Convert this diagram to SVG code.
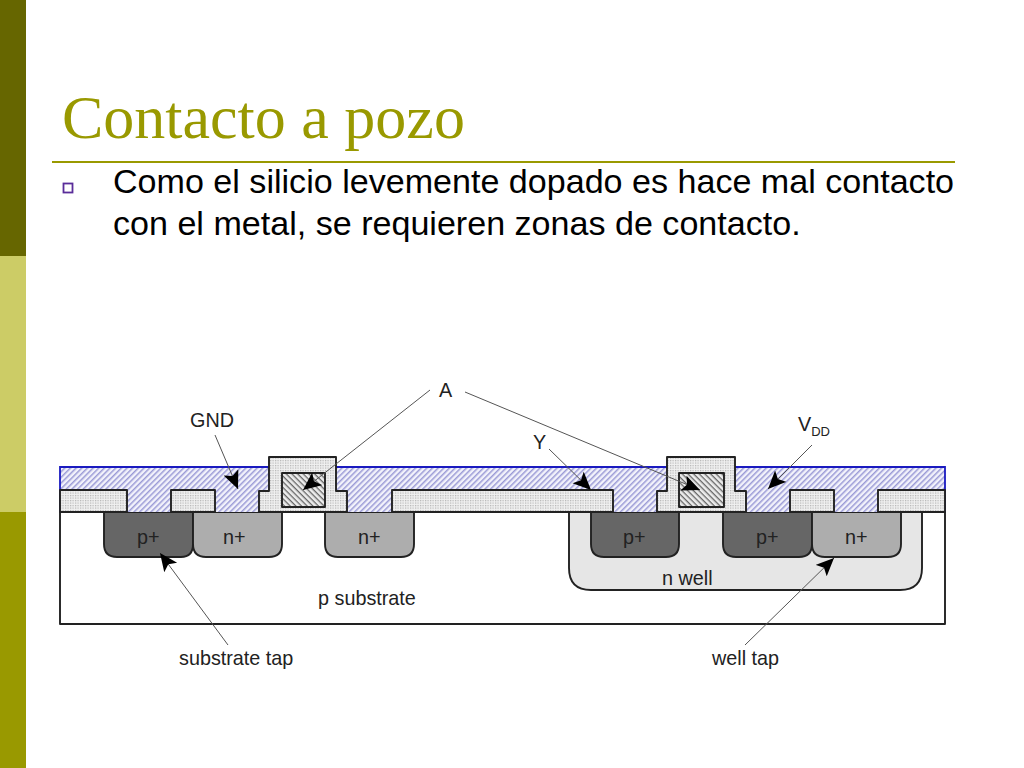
<svg xmlns="http://www.w3.org/2000/svg" width="1024" height="768" viewBox="0 0 1024 768">
<style>
.s{font-family:"Liberation Sans",Arial,sans-serif;font-size:19.800px;fill:#222}
.o{stroke:#222;stroke-width:1.900;stroke-linejoin:round}
.ox{fill:url(#dots)}
.d1{fill:#666666}
.d2{fill:#adadad}
.a{stroke:#555;stroke-width:1;fill:none;marker-end:url(#ah)}
</style>
<defs>
<pattern id="hatchM" width="4" height="4" patternUnits="userSpaceOnUse" patternTransform="rotate(-45)"><rect width="4" height="4" fill="#f2f2fb"/><rect width="4" height="1.500" fill="#9a9ad6"/></pattern>
<pattern id="hatchP" width="4" height="4" patternUnits="userSpaceOnUse" patternTransform="rotate(45)"><rect width="4" height="4" fill="#ececec"/><rect width="4" height="1.300" fill="#666"/></pattern>
<pattern id="dots" width="2.500" height="2.500" patternUnits="userSpaceOnUse"><rect width="2.500" height="2.500" fill="#f0f0f0"/><rect width="1.200" height="1.200" fill="#b4b4b4"/></pattern>
<marker id="ah" markerUnits="userSpaceOnUse" markerWidth="20" markerHeight="18" refX="18" refY="8" orient="auto"><path d="M0,0L18,8L0,16L4,8Z" fill="#000"/></marker>
</defs>
<g id="sidebar">
<rect width="26" height="256" fill="#666600"/>
<rect y="256" width="26" height="256" fill="#cccc66"/>
<rect y="512" width="26" height="256" fill="#999900"/>
</g>
<g id="title">
<text x="62" y="138" font-family="'Liberation Serif','Times New Roman',serif" font-size="62" fill="#999900">Contacto a pozo</text>
<rect x="52" y="161" width="903" height="2" fill="#999900"/>
</g>
<g id="body">
<rect x="63.500" y="183.500" width="9" height="9" fill="#fff" stroke="#5a2d9a" stroke-width="1.800"/>
<text font-family="'Liberation Sans',Arial,sans-serif" font-size="34.100" fill="#000"><tspan x="113" y="193">Como el silicio levemente dopado es hace mal contacto</tspan><tspan x="113" y="235">con el metal, se requieren zonas de contacto.</tspan></text>
</g>
<g id="substrate"><rect class="o" x="60" y="512" width="885" height="112" fill="#fff"/></g>
<g id="nwell"><path class="o" fill="#e6e6e6" d="M569,512V568Q569,590 591,590H900Q922,590 922,568V512Z"/></g>
<g id="diffusions">
<path id="pplus1" class="o d1" d="M104,512V544Q104,557 117,557H181Q193,557 193,544V512Z"/>
<path id="nplus1" class="o d2" d="M193,512V544Q193,557 206,557H269Q282,557 282,544V512Z"/>
<path id="nplus2" class="o d2" d="M325,512V544Q325,557 338,557H401Q414,557 414,544V512Z"/>
<path id="pplus2" class="o d1" d="M591,512V544Q591,557 604,557H666Q679,557 679,544V512Z"/>
<path id="pplus3" class="o d1" d="M723,512V544Q723,557 736,557H799Q812,557 812,544V512Z"/>
<path id="nplus3" class="o d2" d="M812,512V544Q812,557 825,557H888Q901,557 901,544V512Z"/>
</g>
<g id="metal"><path fill="url(#hatchM)" d="M60,467H945V512H60Z"/><path d="M60,512V467H945V512" fill="none" stroke="#1a1ac0" stroke-width="1.800"/></g>
<g id="oxide">
<rect class="o ox" x="60" y="490" width="67" height="22"/>
<rect class="o ox" x="171" y="490" width="44" height="22"/>
<path class="o ox" d="M259,512V491H269V457H336V491H347V512Z"/>
<rect class="o ox" x="392" y="490" width="221" height="22"/>
<path class="o ox" d="M657,512V491H667V457H735V491H746V512Z"/>
<rect class="o ox" x="790" y="490" width="44" height="22"/>
<rect class="o ox" x="878" y="490" width="67" height="22"/>
</g>
<g id="poly">
<rect class="o" x="282" y="473" width="43" height="34" fill="url(#hatchP)"/>
<rect class="o" x="679" y="473" width="45" height="34" fill="url(#hatchP)"/>
</g>
<g id="connectors">
<line class="a" x1="215" y1="435" x2="238" y2="489"/>
<line class="a" x1="430" y1="390" x2="303" y2="490"/>
<line class="a" x1="465" y1="392" x2="700" y2="490"/>
<line class="a" x1="549" y1="449" x2="591" y2="490"/>
<line class="a" x1="812" y1="445" x2="768" y2="489"/>
<line class="a" x1="228" y1="645" x2="160" y2="553"/>
<line class="a" x1="745" y1="645" x2="834" y2="558"/>
</g>
<g id="labels">
<text class="s" x="439" y="397">A</text>
<text class="s" x="190" y="427">GND</text>
<text class="s" x="533" y="449">Y</text>
<text class="s" x="798" y="431">V<tspan font-size="13" dy="5">DD</tspan></text>
<text class="s" x="137" y="544">p+</text>
<text class="s" x="223" y="544">n+</text>
<text class="s" x="358" y="544">n+</text>
<text class="s" x="623" y="544">p+</text>
<text class="s" x="756" y="544">p+</text>
<text class="s" x="845" y="544">n+</text>
<text class="s" x="662" y="585">n well</text>
<text class="s" x="318" y="605">p substrate</text>
<text class="s" x="179" y="665">substrate tap</text>
<text class="s" x="712" y="665">well tap</text>
</g>
</svg>
